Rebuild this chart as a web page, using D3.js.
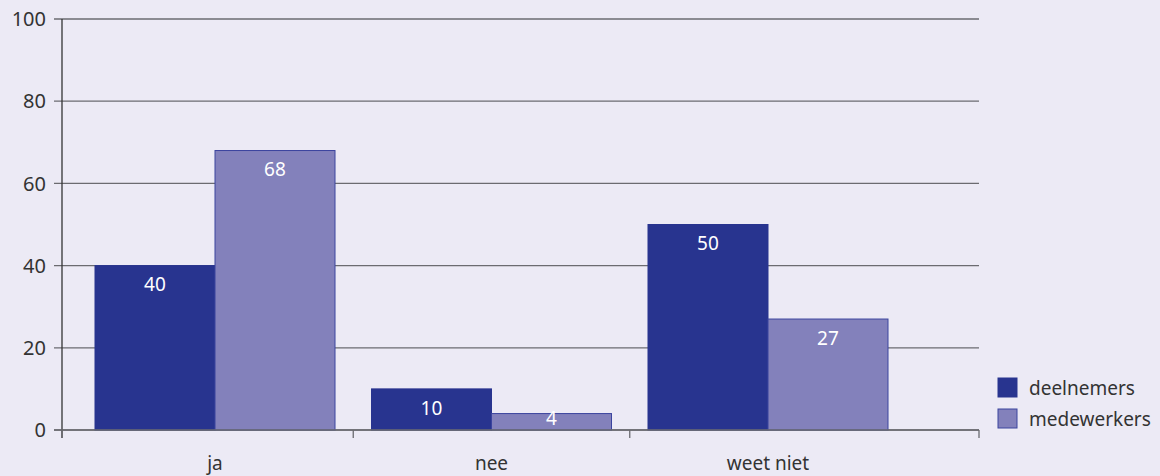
<!DOCTYPE html>
<html>
<head>
<meta charset="utf-8">
<script src="https://cdn.jsdelivr.net/npm/d3@7"></script>
<style>
  html, body { margin: 0; padding: 0; background: #eceaf5; }
  svg { display: block; }
  text { font-family: "Noto Sans", sans-serif; fill: #333; }
</style>
</head>
<body>
<svg id="chart" width="1160" height="476"></svg>
<script>
// Answer categories and the two respondent groups (percentages)
const categories = ["ja", "nee", "weet niet"];
const seriesNames = ["deelnemers", "medewerkers"];
const deelnemers = [40, 10, 50];
const medewerkers = [68, 4, 27];
const yTicks = [0, 20, 40, 60, 80, 100];

const colors = { deelnemers: "#28348f", medewerkers: "#8381bb" };
const strokes = { deelnemers: "#28348f", medewerkers: "#3b449e" };

const svg = d3.select("#chart");
const plot = { left: 62, right: 979, top: 19, bottom: 430 };
const fontSize = 19;

const y = d3.scaleLinear().domain([0, 100]).range([plot.bottom, plot.top]);

const x = d3.scaleBand()
  .domain(categories)
  .range([76.75, 906.25])
  .paddingInner(0.132)
  .paddingOuter(0.066);

const xSub = d3.scaleBand()
  .domain(seriesNames)
  .range([0, x.bandwidth()]);

const rows = categories.map((c, i) => ({
  category: c,
  values: [
    { series: "deelnemers", value: deelnemers[i] },
    { series: "medewerkers", value: medewerkers[i] }
  ]
}));

// horizontal gridlines
svg.append("g")
  .selectAll("line")
  .data(yTicks)
  .join("line")
  .attr("x1", plot.left - 8)
  .attr("x2", plot.right)
  .attr("y1", d => y(d))
  .attr("y2", d => y(d))
  .attr("stroke", "#6b6b70")
  .attr("stroke-width", 1.3);

// y tick labels
svg.append("g")
  .selectAll("text")
  .data(yTicks)
  .join("text")
  .attr("x", 46)
  .attr("y", d => y(d))
  .attr("dy", "0.36em")
  .attr("text-anchor", "end")
  .attr("font-size", 20)
  .text(d => d);

// bars
const groups = svg.append("g")
  .selectAll("g")
  .data(rows)
  .join("g")
  .attr("transform", d => `translate(${x(d.category)},0)`);

groups.selectAll("rect")
  .data(d => d.values)
  .join("rect")
  .attr("x", d => xSub(d.series))
  .attr("width", xSub.bandwidth())
  .attr("y", d => y(d.value))
  .attr("height", d => y(0) - y(d.value))
  .attr("fill", d => colors[d.series])
  .attr("stroke", d => strokes[d.series])
  .attr("stroke-width", 1);

// value labels inside the bars
groups.selectAll("text")
  .data(d => d.values)
  .join("text")
  .attr("x", d => xSub(d.series) + xSub.bandwidth() / 2)
  .attr("y", d => Math.min(y(d.value) + 19, y(0) - 12))
  .attr("dy", "0.36em")
  .attr("text-anchor", "middle")
  .attr("font-size", fontSize)
  .style("fill", "#ffffff")
  .text(d => d.value);

// y axis line
svg.append("line")
  .attr("x1", plot.left).attr("x2", plot.left)
  .attr("y1", plot.top).attr("y2", plot.bottom + 8)
  .attr("stroke", "#333").attr("stroke-width", 1.3);

// x axis baseline and category separators
svg.append("line")
  .attr("x1", plot.left - 8).attr("x2", plot.right)
  .attr("y1", plot.bottom).attr("y2", plot.bottom)
  .attr("stroke", "#6b6b70").attr("stroke-width", 1.5);

const separators = [plot.left]
  .concat(categories.slice(1).map(c => x(c) - x.step() * x.paddingInner() / 2))
  .concat([plot.right]);

svg.append("g")
  .selectAll("line")
  .data(separators)
  .join("line")
  .attr("x1", d => d).attr("x2", d => d)
  .attr("y1", plot.bottom).attr("y2", plot.bottom + 8)
  .attr("stroke", "#6b6b70").attr("stroke-width", 1.3);

// category labels
svg.append("g")
  .selectAll("text")
  .data(categories)
  .join("text")
  .attr("x", d => x(d) + x.bandwidth() / 2)
  .attr("y", 463)
  .attr("dy", "0.36em")
  .attr("text-anchor", "middle")
  .attr("font-size", fontSize)
  .text(d => d);

// legend
const legend = svg.append("g")
  .selectAll("g")
  .data(seriesNames)
  .join("g")
  .attr("transform", (d, i) => `translate(998,${378 + i * 31})`);

legend.append("rect")
  .attr("width", 19).attr("height", 19)
  .attr("fill", d => colors[d])
  .attr("stroke", d => strokes[d])
  .attr("stroke-width", 1);

legend.append("text")
  .attr("x", 31)
  .attr("y", 10)
  .attr("dy", "0.36em")
  .attr("font-size", fontSize)
  .text(d => d);
</script>
</body>
</html>
